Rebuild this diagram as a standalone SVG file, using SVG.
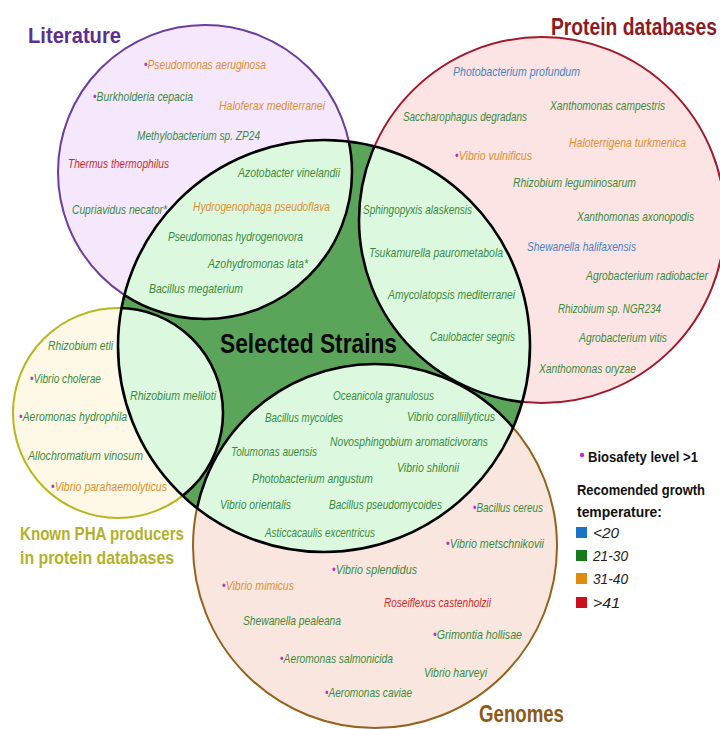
<svg xmlns="http://www.w3.org/2000/svg" width="720" height="729" viewBox="0 0 720 729">
  <defs>
    <style>
      text { font-family: "Liberation Sans Narrow", "Liberation Sans", Arial, sans-serif; }
      .sp { font-size: 13px; font-style: italic; }
      .g { fill: #3a8a3c; }
      .o { fill: #dc8f2e; }
      .r { fill: #cf2a2a; }
      .b { fill: #3d85c6; }
      .dot { fill: #c02ec8; font-style: normal; }
      .title { font-weight: bold; }
      .lens { fill: #dcf9df; stroke: #000; stroke-width: 2.6; }
      .legend { font-size: 14px; font-weight: bold; fill: #111; }
      .tick { font-size: 15px; font-style: italic; fill: #222; }
    </style>
    <clipPath id="selClip">
      <circle cx="324" cy="346" r="206"/>
    </clipPath>
  </defs>

  <rect width="720" height="729" fill="#ffffff"/>

  <!-- set circles -->
  <g id="sets">
    <circle id="set-literature" cx="205" cy="172" r="147" fill="#f6e8fc" stroke="#6a3d9e" stroke-width="2"/>
    <circle id="set-protein" cx="542" cy="220" r="183" fill="#fde4e4" stroke="#a3182a" stroke-width="2"/>
    <circle id="set-pha" cx="118" cy="413" r="105" fill="#fdf9e6" stroke="#b8b61e" stroke-width="2"/>
    <circle id="set-genomes" cx="375" cy="546" r="182" fill="#f9e7df" stroke="#94621c" stroke-width="2"/>
    <circle id="set-selected" cx="324" cy="346" r="206" fill="#5aa55a"/>
    <!-- overlaps with the selected set -->
    <g clip-path="url(#selClip)">
      <circle class="lens" cx="205" cy="172" r="147"/>
      <circle class="lens" cx="542" cy="220" r="183"/>
      <circle class="lens" cx="118" cy="413" r="105"/>
      <circle class="lens" cx="375" cy="546" r="182"/>
    </g>
    <circle cx="324" cy="346" r="206" fill="none" stroke="#000" stroke-width="2.6"/>
  </g>

  <!-- no connectors in this diagram -->
  <g id="connectors"/>

  <g id="literature">
    <text class="title" x="28" y="43" font-size="22" fill="#5c2f90" textLength="93" lengthAdjust="spacingAndGlyphs">Literature</text>
    <text class="sp o" x="144" y="69" textLength="122" lengthAdjust="spacingAndGlyphs"><tspan class="dot">•</tspan>Pseudomonas aeruginosa</text>
    <text class="sp g" x="93" y="101" textLength="100" lengthAdjust="spacingAndGlyphs"><tspan class="dot">•</tspan>Burkholderia cepacia</text>
    <text class="sp o" x="219" y="110" textLength="106" lengthAdjust="spacingAndGlyphs">Haloferax mediterranei</text>
    <text class="sp g" x="137" y="140" textLength="123" lengthAdjust="spacingAndGlyphs">Methylobacterium sp. ZP24</text>
    <text class="sp r" x="68" y="168" textLength="101" lengthAdjust="spacingAndGlyphs">Thermus thermophilus</text>
    <text class="sp g" x="72" y="214" textLength="95" lengthAdjust="spacingAndGlyphs">Cupriavidus necator*</text>
  </g>

  <g id="literature-selected">
    <text class="sp g" x="238" y="177" textLength="102" lengthAdjust="spacingAndGlyphs">Azotobacter vinelandii</text>
    <text class="sp o" x="193" y="211" textLength="137" lengthAdjust="spacingAndGlyphs">Hydrogenophaga pseudoflava</text>
    <text class="sp g" x="168" y="241" textLength="135" lengthAdjust="spacingAndGlyphs">Pseudomonas hydrogenovora</text>
    <text class="sp g" x="208" y="268" textLength="100" lengthAdjust="spacingAndGlyphs">Azohydromonas lata*</text>
    <text class="sp g" x="149" y="293" textLength="94" lengthAdjust="spacingAndGlyphs">Bacillus megaterium</text>
  </g>

  <g id="protein">
    <text class="title" x="551" y="35" font-size="23" fill="#8e1a1f" textLength="166" lengthAdjust="spacingAndGlyphs">Protein databases</text>
    <text class="sp b" x="453" y="76" textLength="127" lengthAdjust="spacingAndGlyphs">Photobacterium profundum</text>
    <text class="sp g" x="550" y="110" textLength="115" lengthAdjust="spacingAndGlyphs">Xanthomonas campestris</text>
    <text class="sp g" x="403" y="121" textLength="124" lengthAdjust="spacingAndGlyphs">Saccharophagus degradans</text>
    <text class="sp o" x="569" y="147" textLength="117" lengthAdjust="spacingAndGlyphs">Haloterrigena turkmenica</text>
    <text class="sp o" x="455" y="160" textLength="77" lengthAdjust="spacingAndGlyphs"><tspan class="dot">•</tspan>Vibrio vulnificus</text>
    <text class="sp g" x="513" y="187" textLength="123" lengthAdjust="spacingAndGlyphs">Rhizobium leguminosarum</text>
    <text class="sp g" x="577" y="221" textLength="117" lengthAdjust="spacingAndGlyphs">Xanthomonas axonopodis</text>
    <text class="sp b" x="527" y="251" textLength="109" lengthAdjust="spacingAndGlyphs">Shewanella halifaxensis</text>
    <text class="sp g" x="586" y="280" textLength="122" lengthAdjust="spacingAndGlyphs">Agrobacterium radiobacter</text>
    <text class="sp g" x="558" y="313" textLength="103" lengthAdjust="spacingAndGlyphs">Rhizobium sp. NGR234</text>
    <text class="sp g" x="579" y="342" textLength="88" lengthAdjust="spacingAndGlyphs">Agrobacterium vitis</text>
    <text class="sp g" x="539" y="373" textLength="97" lengthAdjust="spacingAndGlyphs">Xanthomonas oryzae</text>
  </g>

  <g id="protein-selected">
    <text class="sp g" x="363" y="214" textLength="109" lengthAdjust="spacingAndGlyphs">Sphingopyxis alaskensis</text>
    <text class="sp g" x="369" y="257" textLength="134" lengthAdjust="spacingAndGlyphs">Tsukamurella paurometabola</text>
    <text class="sp g" x="388" y="299" textLength="127" lengthAdjust="spacingAndGlyphs">Amycolatopsis mediterranei</text>
    <text class="sp g" x="430" y="341" textLength="85" lengthAdjust="spacingAndGlyphs">Caulobacter segnis</text>
  </g>

  <g id="selected">
    <text class="title" x="220" y="353" font-size="28" fill="#0a0a0a" textLength="177" lengthAdjust="spacingAndGlyphs">Selected Strains</text>
  </g>

  <g id="pha">
    <text class="title" x="20" y="540" font-size="19" fill="#b3b12a" textLength="164" lengthAdjust="spacingAndGlyphs">Known PHA producers</text>
    <text class="title" x="20" y="564" font-size="19" fill="#b3b12a" textLength="154" lengthAdjust="spacingAndGlyphs">in protein databases</text>
    <text class="sp g" x="48" y="350" textLength="65" lengthAdjust="spacingAndGlyphs">Rhizobium etli</text>
    <text class="sp g" x="30" y="383" textLength="71" lengthAdjust="spacingAndGlyphs"><tspan class="dot">•</tspan>Vibrio cholerae</text>
    <text class="sp g" x="19" y="421" textLength="108" lengthAdjust="spacingAndGlyphs"><tspan class="dot">•</tspan>Aeromonas hydrophila</text>
    <text class="sp g" x="28" y="460" textLength="115" lengthAdjust="spacingAndGlyphs">Allochromatium vinosum</text>
    <text class="sp o" x="51" y="491" textLength="116" lengthAdjust="spacingAndGlyphs"><tspan class="dot">•</tspan>Vibrio parahaemolyticus</text>
  </g>

  <g id="pha-selected">
    <text class="sp g" x="130" y="400" textLength="86" lengthAdjust="spacingAndGlyphs">Rhizobium meliloti</text>
  </g>

  <g id="genomes-selected">
    <text class="sp g" x="333" y="400" textLength="101" lengthAdjust="spacingAndGlyphs">Oceanicola granulosus</text>
    <text class="sp g" x="265" y="422" textLength="78" lengthAdjust="spacingAndGlyphs">Bacillus mycoides</text>
    <text class="sp g" x="407" y="421" textLength="88" lengthAdjust="spacingAndGlyphs">Vibrio coralliilyticus</text>
    <text class="sp g" x="330" y="446" textLength="158" lengthAdjust="spacingAndGlyphs">Novosphingobium aromaticivorans</text>
    <text class="sp g" x="231" y="456" textLength="86" lengthAdjust="spacingAndGlyphs">Tolumonas auensis</text>
    <text class="sp g" x="397" y="472" textLength="62" lengthAdjust="spacingAndGlyphs">Vibrio shilonii</text>
    <text class="sp g" x="252" y="483" textLength="121" lengthAdjust="spacingAndGlyphs">Photobacterium angustum</text>
    <text class="sp g" x="220" y="509" textLength="71" lengthAdjust="spacingAndGlyphs">Vibrio orientalis</text>
    <text class="sp g" x="329" y="509" textLength="113" lengthAdjust="spacingAndGlyphs">Bacillus pseudomycoides</text>
    <text class="sp g" x="265" y="537" textLength="110" lengthAdjust="spacingAndGlyphs">Asticcacaulis excentricus</text>
  </g>

  <g id="genomes">
    <text class="title" x="479" y="722" font-size="24" fill="#8c5a16" textLength="85" lengthAdjust="spacingAndGlyphs">Genomes</text>
    <text class="sp g" x="473" y="512" textLength="70" lengthAdjust="spacingAndGlyphs"><tspan class="dot">•</tspan>Bacillus cereus</text>
    <text class="sp g" x="446" y="548" textLength="98" lengthAdjust="spacingAndGlyphs"><tspan class="dot">•</tspan>Vibrio metschnikovii</text>
    <text class="sp g" x="332" y="574" textLength="85" lengthAdjust="spacingAndGlyphs"><tspan class="dot">•</tspan>Vibrio splendidus</text>
    <text class="sp o" x="222" y="590" textLength="72" lengthAdjust="spacingAndGlyphs"><tspan class="dot">•</tspan>Vibrio mimicus</text>
    <text class="sp r" x="384" y="607" textLength="107" lengthAdjust="spacingAndGlyphs">Roseiflexus castenholzii</text>
    <text class="sp g" x="243" y="625" textLength="98" lengthAdjust="spacingAndGlyphs">Shewanella pealeana</text>
    <text class="sp g" x="433" y="639" textLength="89" lengthAdjust="spacingAndGlyphs"><tspan class="dot">•</tspan>Grimontia hollisae</text>
    <text class="sp g" x="280" y="663" textLength="113" lengthAdjust="spacingAndGlyphs"><tspan class="dot">•</tspan>Aeromonas salmonicida</text>
    <text class="sp g" x="424" y="677" textLength="63" lengthAdjust="spacingAndGlyphs">Vibrio harveyi</text>
    <text class="sp g" x="325" y="697" textLength="87" lengthAdjust="spacingAndGlyphs"><tspan class="dot">•</tspan>Aeromonas caviae</text>
  </g>

  <g id="legend">
    <circle cx="582" cy="455" r="2.2" fill="#c02ec8"/>
    <text class="legend" x="588" y="462" textLength="110" lengthAdjust="spacingAndGlyphs">Biosafety level &gt;1</text>
    <text class="legend" x="577" y="495" textLength="128" lengthAdjust="spacingAndGlyphs">Recomended growth</text>
    <text class="legend" x="577" y="517" textLength="85" lengthAdjust="spacingAndGlyphs">temperature:</text>
    <rect x="576" y="527" width="11" height="11" fill="#1a73c9"/>
    <text class="tick" x="593" y="538" textLength="26" lengthAdjust="spacingAndGlyphs">&lt;20</text>
    <rect x="576" y="550" width="11" height="11" fill="#167a1a"/>
    <text class="tick" x="593" y="561" textLength="35" lengthAdjust="spacingAndGlyphs">21-30</text>
    <rect x="576" y="573" width="11" height="11" fill="#e08a10"/>
    <text class="tick" x="593" y="584" textLength="35" lengthAdjust="spacingAndGlyphs">31-40</text>
    <rect x="576" y="597" width="11" height="11" fill="#c8101e"/>
    <text class="tick" x="593" y="608" textLength="27" lengthAdjust="spacingAndGlyphs">&gt;41</text>
  </g>
</svg>
